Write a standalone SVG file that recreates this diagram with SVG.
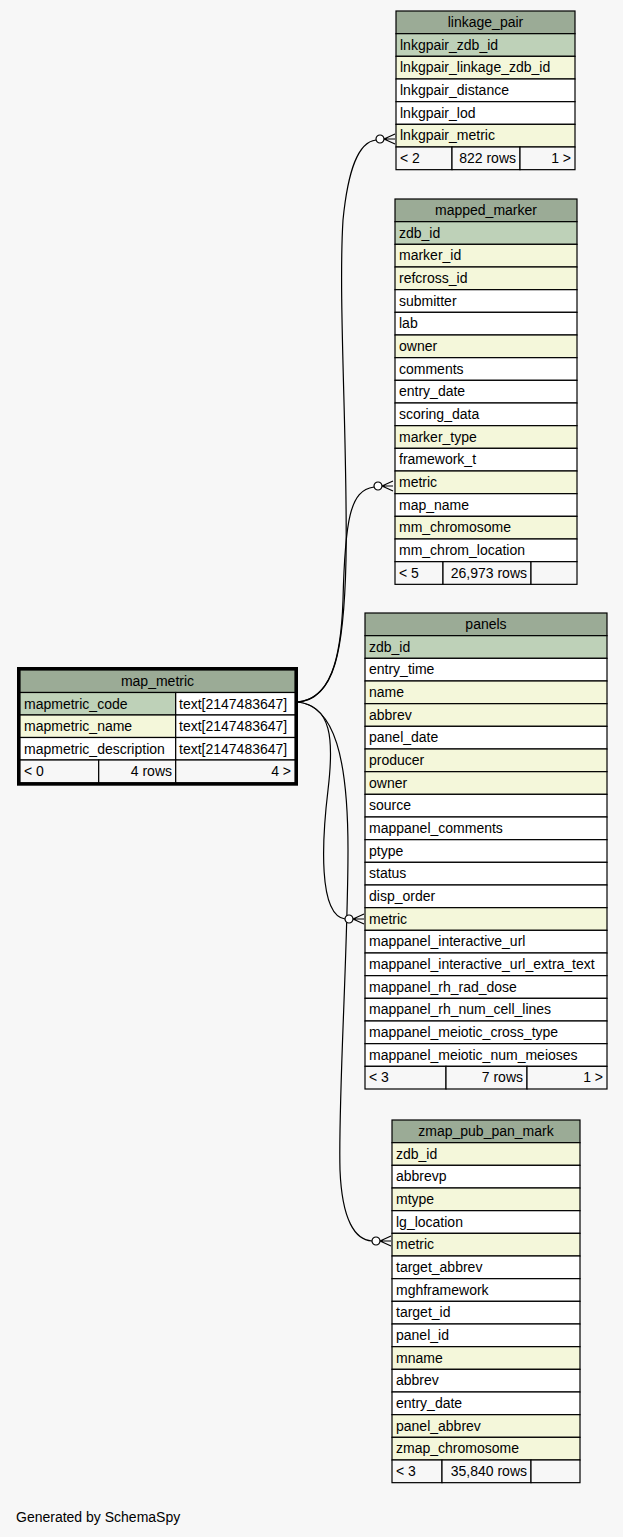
<svg xmlns="http://www.w3.org/2000/svg" xmlns:xlink="http://www.w3.org/1999/xlink" width="623" height="1537" viewBox="0 0 623 1537">
<style>
.h{fill:#9bab96}.pk{fill:#bed1b8}.fk{fill:#f4f7da}.w{fill:#fff}.ft{fill:#f7f7f7}
rect{stroke:#000;stroke-width:1.2}
rect.bg{fill:#f7f7f7;stroke:none}
rect.sel{fill:none;stroke:#000;stroke-width:3}
text{font-family:"Liberation Sans",Arial,Helvetica,sans-serif;font-size:14px;fill:#000}
.c{text-anchor:middle}.r{text-anchor:end}
.e{fill:none;stroke:#000;stroke-width:1.2}
.cr{fill:none;stroke:#000;stroke-width:1.2}
.dot{fill:#fff;stroke:#000;stroke-width:1.2}
</style>
<defs>
<g id="crowodot">
<path class="cr" d="M0,0 L11,-5 M0,0 L11,0 M0,0 L11,5"/>
<circle class="dot" cx="-4" cy="0" r="4"/>
</g>
</defs>
<rect class="bg" x="0" y="0" width="623" height="1537"/>

<g id="connectors">
<path class="e" d="M297,702 C335,700 344,650 346,560 C348,450 338,300 343,220 C348,170 358,142 376,140"/>
<path class="e" d="M297,702 C330,700 341,660 343,600 C345,520 350,490 374,487"/>
<path class="e" d="M297,702 C332,705 334,740 328,790 C322,840 318,915 345,919"/>
<path class="e" d="M297,702 C335,705 348,760 348,850 C348,950 338,1100 340,1170 C342,1220 355,1240 372,1241"/>
<use xlink:href="#crowodot" href="#crowodot" transform="translate(384,139)"/>
<use xlink:href="#crowodot" href="#crowodot" transform="translate(382,486)"/>
<use xlink:href="#crowodot" href="#crowodot" transform="translate(353,919)"/>
<use xlink:href="#crowodot" href="#crowodot" transform="translate(380,1241)"/>
</g>

<g id="linkage_pair" transform="translate(396,11)">
<rect class="h" x="0" y="0" width="179" height="22.67"/>
<text class="c" x="89.5" y="16">linkage_pair</text>
<rect class="pk" x="0" y="22.67" width="179" height="22.67"/>
<text x="4" y="38.67">lnkgpair_zdb_id</text>
<rect class="fk" x="0" y="45.33" width="179" height="22.67"/>
<text x="4" y="61.33">lnkgpair_linkage_zdb_id</text>
<rect class="w" x="0" y="68" width="179" height="22.67"/>
<text x="4" y="84">lnkgpair_distance</text>
<rect class="w" x="0" y="90.67" width="179" height="22.67"/>
<text x="4" y="106.67">lnkgpair_lod</text>
<rect class="fk" x="0" y="113.33" width="179" height="22.67"/>
<text x="4" y="129.33">lnkgpair_metric</text>
<rect class="ft" x="0" y="136" width="56" height="22.67"/>
<rect class="ft" x="56" y="136" width="68" height="22.67"/>
<rect class="ft" x="124" y="136" width="55" height="22.67"/>
<text x="4" y="152">&lt; 2</text>
<text class="r" x="120" y="152">822 rows</text>
<text class="r" x="175" y="152">1 &gt;</text>
</g>

<g id="mapped_marker" transform="translate(395,199)">
<rect class="h" x="0" y="0" width="182" height="22.67"/>
<text class="c" x="91" y="16">mapped_marker</text>
<rect class="pk" x="0" y="22.67" width="182" height="22.67"/>
<text x="4" y="38.67">zdb_id</text>
<rect class="fk" x="0" y="45.33" width="182" height="22.67"/>
<text x="4" y="61.33">marker_id</text>
<rect class="fk" x="0" y="68" width="182" height="22.67"/>
<text x="4" y="84">refcross_id</text>
<rect class="w" x="0" y="90.67" width="182" height="22.67"/>
<text x="4" y="106.67">submitter</text>
<rect class="w" x="0" y="113.33" width="182" height="22.67"/>
<text x="4" y="129.33">lab</text>
<rect class="fk" x="0" y="136" width="182" height="22.67"/>
<text x="4" y="152">owner</text>
<rect class="w" x="0" y="158.67" width="182" height="22.67"/>
<text x="4" y="174.67">comments</text>
<rect class="w" x="0" y="181.33" width="182" height="22.67"/>
<text x="4" y="197.33">entry_date</text>
<rect class="w" x="0" y="204" width="182" height="22.67"/>
<text x="4" y="220">scoring_data</text>
<rect class="fk" x="0" y="226.67" width="182" height="22.67"/>
<text x="4" y="242.67">marker_type</text>
<rect class="w" x="0" y="249.33" width="182" height="22.67"/>
<text x="4" y="265.33">framework_t</text>
<rect class="fk" x="0" y="272" width="182" height="22.67"/>
<text x="4" y="288">metric</text>
<rect class="w" x="0" y="294.67" width="182" height="22.67"/>
<text x="4" y="310.67">map_name</text>
<rect class="fk" x="0" y="317.33" width="182" height="22.67"/>
<text x="4" y="333.33">mm_chromosome</text>
<rect class="w" x="0" y="340" width="182" height="22.67"/>
<text x="4" y="356">mm_chrom_location</text>
<rect class="ft" x="0" y="362.67" width="48" height="22.67"/>
<rect class="ft" x="48" y="362.67" width="88" height="22.67"/>
<rect class="ft" x="136" y="362.67" width="46" height="22.67"/>
<text x="4" y="378.67">&lt; 5</text>
<text class="r" x="132" y="378.67">26,973 rows</text>
</g>

<g id="panels" transform="translate(365,613)">
<rect class="h" x="0" y="0" width="242" height="22.67"/>
<text class="c" x="121" y="16">panels</text>
<rect class="pk" x="0" y="22.67" width="242" height="22.67"/>
<text x="4" y="38.67">zdb_id</text>
<rect class="w" x="0" y="45.33" width="242" height="22.67"/>
<text x="4" y="61.33">entry_time</text>
<rect class="fk" x="0" y="68" width="242" height="22.67"/>
<text x="4" y="84">name</text>
<rect class="fk" x="0" y="90.67" width="242" height="22.67"/>
<text x="4" y="106.67">abbrev</text>
<rect class="w" x="0" y="113.33" width="242" height="22.67"/>
<text x="4" y="129.33">panel_date</text>
<rect class="fk" x="0" y="136" width="242" height="22.67"/>
<text x="4" y="152">producer</text>
<rect class="fk" x="0" y="158.67" width="242" height="22.67"/>
<text x="4" y="174.67">owner</text>
<rect class="w" x="0" y="181.33" width="242" height="22.67"/>
<text x="4" y="197.33">source</text>
<rect class="w" x="0" y="204" width="242" height="22.67"/>
<text x="4" y="220">mappanel_comments</text>
<rect class="w" x="0" y="226.67" width="242" height="22.67"/>
<text x="4" y="242.67">ptype</text>
<rect class="w" x="0" y="249.33" width="242" height="22.67"/>
<text x="4" y="265.33">status</text>
<rect class="w" x="0" y="272" width="242" height="22.67"/>
<text x="4" y="288">disp_order</text>
<rect class="fk" x="0" y="294.67" width="242" height="22.67"/>
<text x="4" y="310.67">metric</text>
<rect class="w" x="0" y="317.33" width="242" height="22.67"/>
<text x="4" y="333.33">mappanel_interactive_url</text>
<rect class="w" x="0" y="340" width="242" height="22.67"/>
<text x="4" y="356">mappanel_interactive_url_extra_text</text>
<rect class="w" x="0" y="362.67" width="242" height="22.67"/>
<text x="4" y="378.67">mappanel_rh_rad_dose</text>
<rect class="w" x="0" y="385.33" width="242" height="22.67"/>
<text x="4" y="401.33">mappanel_rh_num_cell_lines</text>
<rect class="w" x="0" y="408" width="242" height="22.67"/>
<text x="4" y="424">mappanel_meiotic_cross_type</text>
<rect class="w" x="0" y="430.67" width="242" height="22.67"/>
<text x="4" y="446.67">mappanel_meiotic_num_meioses</text>
<rect class="ft" x="0" y="453.33" width="81" height="22.67"/>
<rect class="ft" x="81" y="453.33" width="81" height="22.67"/>
<rect class="ft" x="162" y="453.33" width="80" height="22.67"/>
<text x="4" y="469.33">&lt; 3</text>
<text class="r" x="158" y="469.33">7 rows</text>
<text class="r" x="238" y="469.33">1 &gt;</text>
</g>

<g id="zmap_pub_pan_mark" transform="translate(392,1120)">
<rect class="h" x="0" y="0" width="188" height="22.67"/>
<text class="c" x="94" y="16">zmap_pub_pan_mark</text>
<rect class="fk" x="0" y="22.67" width="188" height="22.67"/>
<text x="4" y="38.67">zdb_id</text>
<rect class="w" x="0" y="45.33" width="188" height="22.67"/>
<text x="4" y="61.33">abbrevp</text>
<rect class="fk" x="0" y="68" width="188" height="22.67"/>
<text x="4" y="84">mtype</text>
<rect class="w" x="0" y="90.67" width="188" height="22.67"/>
<text x="4" y="106.67">lg_location</text>
<rect class="fk" x="0" y="113.33" width="188" height="22.67"/>
<text x="4" y="129.33">metric</text>
<rect class="w" x="0" y="136" width="188" height="22.67"/>
<text x="4" y="152">target_abbrev</text>
<rect class="w" x="0" y="158.67" width="188" height="22.67"/>
<text x="4" y="174.67">mghframework</text>
<rect class="w" x="0" y="181.33" width="188" height="22.67"/>
<text x="4" y="197.33">target_id</text>
<rect class="w" x="0" y="204" width="188" height="22.67"/>
<text x="4" y="220">panel_id</text>
<rect class="fk" x="0" y="226.67" width="188" height="22.67"/>
<text x="4" y="242.67">mname</text>
<rect class="w" x="0" y="249.33" width="188" height="22.67"/>
<text x="4" y="265.33">abbrev</text>
<rect class="w" x="0" y="272" width="188" height="22.67"/>
<text x="4" y="288">entry_date</text>
<rect class="fk" x="0" y="294.67" width="188" height="22.67"/>
<text x="4" y="310.67">panel_abbrev</text>
<rect class="fk" x="0" y="317.33" width="188" height="22.67"/>
<text x="4" y="333.33">zmap_chromosome</text>
<rect class="ft" x="0" y="340" width="50" height="22.67"/>
<rect class="ft" x="50" y="340" width="89" height="22.67"/>
<rect class="ft" x="139" y="340" width="49" height="22.67"/>
<text x="4" y="356">&lt; 3</text>
<text class="r" x="135" y="356">35,840 rows</text>
</g>

<g id="map_metric">
<rect class="h" x="20" y="670" width="275" height="22.5"/>
<text class="c" x="157.5" y="686">map_metric</text>
<rect class="pk" x="20" y="692.5" width="155.7" height="22.5"/>
<rect class="w" x="175.7" y="692.5" width="119.3" height="22.5"/>
<text x="24" y="708.5">mapmetric_code</text>
<text x="179" y="708.5">text[2147483647]</text>
<rect class="fk" x="20" y="715" width="155.7" height="22.5"/>
<rect class="w" x="175.7" y="715" width="119.3" height="22.5"/>
<text x="24" y="731">mapmetric_name</text>
<text x="179" y="731">text[2147483647]</text>
<rect class="w" x="20" y="737.5" width="155.7" height="22.5"/>
<rect class="w" x="175.7" y="737.5" width="119.3" height="22.5"/>
<text x="24" y="753.5">mapmetric_description</text>
<text x="179" y="753.5">text[2147483647]</text>
<rect class="ft" x="20" y="760" width="78.7" height="22.7"/>
<rect class="ft" x="98.7" y="760" width="77" height="22.7"/>
<rect class="ft" x="175.7" y="760" width="119.3" height="22.7"/>
<text x="24" y="776">&lt; 0</text>
<text class="r" x="172" y="776">4 rows</text>
<text class="r" x="291" y="776">4 &gt;</text>
<rect class="sel" x="18.5" y="668.5" width="278" height="115.7"/>
</g>

<text x="16" y="1522">Generated by SchemaSpy</text>
</svg>
